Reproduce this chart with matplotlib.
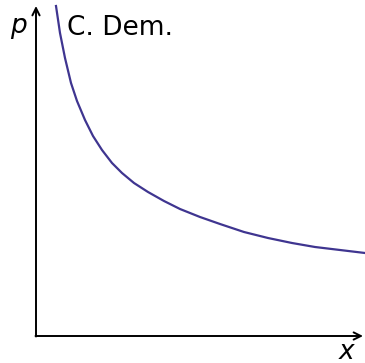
import matplotlib
matplotlib.use('Agg')
import matplotlib.pyplot as plt

# demand curve
x_vals = [20, 24, 29, 35, 41, 49, 57, 66, 76, 86, 98, 112, 128, 144, 164, 184, 208, 232, 256, 279, 304, 329]
p_vals = [330, 303, 278, 253, 235, 216, 200, 186, 173, 163, 153, 144, 135, 127, 119, 112, 104, 98, 93, 89, 86, 83]
curve_label = 'C. Dem.'
x_label = 'x'
p_label = 'p'

fig = plt.figure(figsize=(3.65, 3.63), dpi=100)
ax = fig.add_axes([0, 0, 1, 1])
ax.set_xlim(-36, 329)
ax.set_ylim(-27, 336)
ax.axis('off')

ax.plot(x_vals, p_vals, color='#3f3590', lw=1.6, solid_joinstyle='round')

arrow = dict(arrowstyle='->', lw=1.4, color='black', mutation_scale=13, shrinkA=0, shrinkB=0)
ax.annotate('', xy=(0, 330), xytext=(0, -0.5), arrowprops=arrow)
ax.annotate('', xy=(327, 0), xytext=(-0.5, 0), arrowprops=arrow)

ax.text(31, 301, curve_label, fontsize=19, ha='left', va='baseline')
ax.text(-18, 303, p_label, fontsize=19, fontstyle='italic', ha='center', va='baseline')
ax.text(311, -23, x_label, fontsize=19, fontstyle='italic', ha='center', va='baseline')

fig.savefig('out.png', dpi=100)
